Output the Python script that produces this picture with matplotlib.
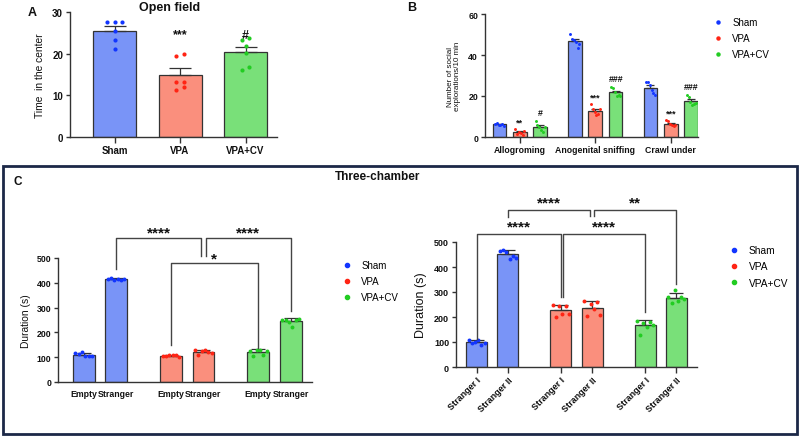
import matplotlib
matplotlib.use('Agg')
import matplotlib.pyplot as plt
import numpy as np
from matplotlib.lines import Line2D
from matplotlib.patches import Rectangle

plt.rcParams['font.family'] = ['Liberation Sans', 'DejaVu Sans']

# ---------------- data ----------------
groups = ['Sham', 'VPA', 'VPA+CV']

# Panel A: time in the center (open field)
a_sham = [27.7, 27.7, 27.7, 25.5, 23.4, 21.2]
a_vpa = [19.5, 19.9, 13.3, 13.3, 11.3, 12.1]
a_cv = [23.3, 23.7, 21.9, 20.2, 16.2, 16.8]
a_marks = ['', '***', '#']

# Panel B: social explorations
b_categories = ['Allogroming', 'Anogenital sniffing', 'Crawl under']
b_sham = [[6.5, 6.8, 6.0, 5.8, 6.2, 5.4],
          [50.2, 48.0, 47.4, 46.4, 43.2, 45.3],
          [26.7, 27.0, 25.4, 23.1, 21.5, 20.5]]
b_vpa = [[4.0, 1.5, 2.5, 1.8, 1.2, 2.8],
         [16.0, 13.7, 12.1, 10.5, 11.0, 13.5],
         [8.1, 7.6, 6.5, 5.7, 5.2, 6.0]]
b_cv = [[8.0, 6.0, 5.0, 3.5, 2.5, 5.0],
        [24.3, 23.8, 21.8, 20.2, 20.6, 19.8],
        [20.5, 19.3, 17.3, 15.7, 16.0, 16.8]]
b_marks_vpa = ['**', '***', '***']
b_marks_cv = ['#', '###', '###']

# Panel C left: Empty vs Stranger
c1_labels = ['Empty', 'Stranger']
c1_sham = [[118, 113, 121, 104, 106, 103], [416, 418, 412, 417, 410, 414]]
c1_vpa = [[104, 106, 108, 107, 107, 101], [131, 108, 126, 130, 122, 116]]
c1_cv = [[124, 105, 128, 131, 110, 126], [252, 250, 240, 221, 248, 255]]

# Panel C right: Stranger I vs Stranger II
c2_labels = ['Stranger I', 'Stranger II']
c2_sham = [[110, 95, 100, 110, 90, 98], [465, 470, 462, 432, 445, 435]]
c2_vpa = [[247, 200, 245, 212, 246, 213], [266, 203, 252, 233, 261, 210]]
c2_cv = [[186, 130, 175, 160, 182, 167], [280, 255, 310, 263, 280, 273]]

# ---------------- style ----------------
fills = ['#7994f7', '#fa8f7d', '#79e079']
dots = ['#1235ff', '#ff2414', '#22cc22']
edge = '#333333'
W, H = 800, 439
fig = plt.figure(figsize=(W / 100, H / 100), dpi=100)


def add_ax(l, t, r, b):
    return fig.add_axes([l / W, 1 - b / H, (r - l) / W, (b - t) / H])


def ftext(x, y, s, **kw):
    fig.text(x / W, 1 - y / H, s, **kw)


def style(ax, fs, xlen=3):
    for s in ['top', 'right']:
        ax.spines[s].set_visible(False)
    for s in ['left', 'bottom']:
        ax.spines[s].set_linewidth(1.0)
        ax.spines[s].set_color(edge)
    ax.tick_params(axis='y', width=1.0, length=3, color=edge, labelsize=fs, pad=2)
    ax.tick_params(axis='x', width=1.0, length=xlen, color=edge, labelsize=fs, pad=2)
    for lab in ax.get_yticklabels():
        lab.set_fontweight('bold')
        lab.set_color('#111111')


def draw_group(ax, x, pts, fill, dot, width, cap, dsize, offsets, err='sem'):
    pts = np.asarray(pts, float)
    m = pts.mean()
    e = pts.std(ddof=1)
    if err == 'sem':
        e = e / np.sqrt(len(pts))
    ax.bar(x, m, width, color=fill, edgecolor=edge, linewidth=0.9, zorder=2)
    ax.errorbar([x], [m], yerr=[[0], [e]], fmt='none', ecolor=edge, elinewidth=0.9,
                capsize=cap, capthick=0.9, zorder=3)
    ax.scatter(x + np.asarray(offsets), pts, s=dsize, color=dot, linewidths=0, zorder=4,
               clip_on=False)
    return m, e


def legend_at(mx, y0, fs, pitch_ls, ms=2.6):
    fpx = fs * 100 / 72
    handles = [Line2D([], [], marker='o', ls='', color=c, markersize=ms) for c in dots]
    fig.legend(handles, groups, loc='upper left',
               bbox_to_anchor=((mx - fpx / 2) / W, 1 - (y0 - 0.58 * fpx) / H),
               frameon=False, fontsize=fs, handlelength=1.0, handletextpad=0.95,
               borderpad=0, borderaxespad=0, labelspacing=pitch_ls, handleheight=0.7)


# ---------------- Panel A ----------------
axA = add_ax(70, 13, 277, 138)
a_off = [[-0.11, 0.0, 0.11, 0.0, 0.0, 0.0],
         [-0.06, 0.06, -0.06, 0.06, -0.06, 0.06],
         [-0.06, 0.06, 0.0, 0.0, -0.06, 0.06]]
for i, pts in enumerate([a_sham, a_vpa, a_cv]):
    draw_group(axA, i, pts, fills[i], dots[i], 0.655, 8.0, 9, a_off[i])
    if a_marks[i]:
        axA.text(i, 24.6, a_marks[i], ha='center', va='center', fontsize=9,
                 fontweight='bold', color='#111111')
axA.set_xlim(-0.68, 2.48)
axA.set_ylim(0, 30)
axA.set_yticks([0, 10, 20, 30])
axA.set_xticks(range(3))
axA.set_xticklabels(groups, fontweight='bold', color='#111111')
style(axA, 7, xlen=4)
axA.set_ylabel('Time  in the center', fontsize=7.4, color='#111111', labelpad=5)
ftext(32, 13, 'A', fontsize=9, fontweight='bold', ha='center', va='center', color='#111111')
ftext(170, 8, 'Open field', fontsize=9, fontweight='bold', ha='center', va='center', color='#111111')

# ---------------- Panel B ----------------
axB = add_ax(485, 15, 698, 138)
boff = 0.27
bw = 0.18
b_jit = [-0.06, -0.035, -0.01, 0.015, 0.04, 0.06]
b_all = [b_sham, b_vpa, b_cv]
for c in range(3):
    for g in range(3):
        x = c + (g - 1) * boff
        pts = b_all[g][c]
        draw_group(axB, x, pts, fills[g], dots[g], bw, 2.8, 4.5, b_jit)
        if g == 1:
            axB.text(x, max(pts) + 1.2, b_marks_vpa[c], ha='center', va='bottom',
                     fontsize=6.5, fontweight='bold', color='#111111')
        if g == 2:
            axB.text(x, max(pts) + 1.8, b_marks_cv[c], ha='center', va='bottom',
                     fontsize=6.3, fontweight='bold', color='#111111')
axB.set_xlim(-0.46, 2.36)
axB.set_ylim(0, 60)
axB.set_yticks([0, 20, 40, 60])
axB.set_xticks(range(3))
axB.set_xticklabels(b_categories, fontweight='bold', color='#111111')
style(axB, 6.3, xlen=4)
axB.set_ylabel('Number of social\nexplorations/10 min', fontsize=5.8, color='#111111',
               labelpad=5, linespacing=1.0)
ftext(412, 8, 'B', fontsize=9, fontweight='bold', ha='center', va='center', color='#111111')
legend_at(718, 24, 7, 0.62, ms=2.2)

# ---------------- Panel C frame ----------------
fig.patches.append(Rectangle((3 / W, 1 - 435 / H), 794 / W, 268 / H, fill=False,
                             edgecolor='#1c2847', linewidth=2.0, transform=fig.transFigure,
                             figure=fig))
ftext(18, 182, 'C', fontsize=8.5, fontweight='bold', ha='center', va='center', color='#111111')
ftext(378, 177, 'Three-chamber', fontsize=8.5, fontweight='bold', ha='center', va='center',
      color='#111111')

cp = 0.186
cw = 0.25
c_jit = np.linspace(-0.095, 0.095, 6)


def bracket(ax, x1, y1, x2, y2, ytop):
    ax.plot([x1, x1, x2, x2], [y1, ytop, ytop, y2], color='#444444', lw=1.0,
            clip_on=False, zorder=5)


def stars(ax, x, y, s):
    ax.text(x, y, s, ha='center', va='center', fontsize=11, fontweight='bold',
            color='#111111', clip_on=False)


# C left
axC1 = add_ax(58, 259, 312, 383)
tick_pos = []
tick_lab = []
for g, data in enumerate([c1_sham, c1_vpa, c1_cv]):
    for k in range(2):
        x = g + (k * 2 - 1) * cp
        draw_group(axC1, x, data[k], fills[g], dots[g], cw, 5.0, 8, c_jit, err='sd')
        tick_pos.append(x)
        tick_lab.append(c1_labels[k])
axC1.set_xlim(-0.48, 2.43)
axC1.set_ylim(0, 500)
axC1.set_yticks(range(0, 501, 100))
axC1.set_xticks(tick_pos)
axC1.set_xticklabels(tick_lab, fontweight='bold', color='#111111')
style(axC1, 6.3, xlen=0)
axC1.tick_params(axis='x', pad=5)
axC1.set_ylabel('Duration (s)', fontsize=7.4, color='#111111', labelpad=4)
bracket(axC1, cp, 455, 1.158, 508, 581)
bracket(axC1, 1.215, 508, 2 + cp, 286, 581)
bracket(axC1, 1 - cp, 149, 2 - cp, 137, 480)
stars(axC1, (cp + 1.158) / 2, 604, '****')
stars(axC1, (1.215 + 2 + cp) / 2, 604, '****')
stars(axC1, 1.31, 500, '*')
legend_at(347, 267, 7, 0.62, ms=3.0)

# C right
axC2 = add_ax(456, 243, 697, 368)
tick_pos = []
tick_lab = []
for g, data in enumerate([c2_sham, c2_vpa, c2_cv]):
    for k in range(2):
        x = g + (k * 2 - 1) * cp
        draw_group(axC2, x, data[k], fills[g], dots[g], cw, 5.0, 8, c_jit, err='sd')
        tick_pos.append(x)
        tick_lab.append(c2_labels[k])
axC2.set_xlim(-0.43, 2.43)
axC2.set_ylim(0, 500)
axC2.set_yticks(range(0, 501, 100))
axC2.set_xticks(tick_pos)
axC2.set_xticklabels(tick_lab, fontweight='bold', color='#111111', rotation=45,
                     ha='right', rotation_mode='anchor')
style(axC2, 6.5, xlen=4)
axC2.set_ylabel('Duration (s)', fontsize=9, color='#111111', labelpad=5)
bracket(axC2, cp, 600, 1.16, 604, 628)
bracket(axC2, 1.207, 604, 2 + cp, 332, 628)
bracket(axC2, -cp, 112, 1 - cp, 280, 532)
bracket(axC2, 0.84, 280, 2 - cp, 220, 532)
stars(axC2, (cp + 1.16) / 2, 658, '****')
stars(axC2, (1.207 + 2 + cp) / 2, 658, '**')
stars(axC2, (-cp + 1 - cp) / 2, 562, '****')
stars(axC2, (0.84 + 2 - cp) / 2, 562, '****')
legend_at(734, 252, 7.3, 0.62, ms=3.0)

fig.savefig('out.png', dpi=100)
